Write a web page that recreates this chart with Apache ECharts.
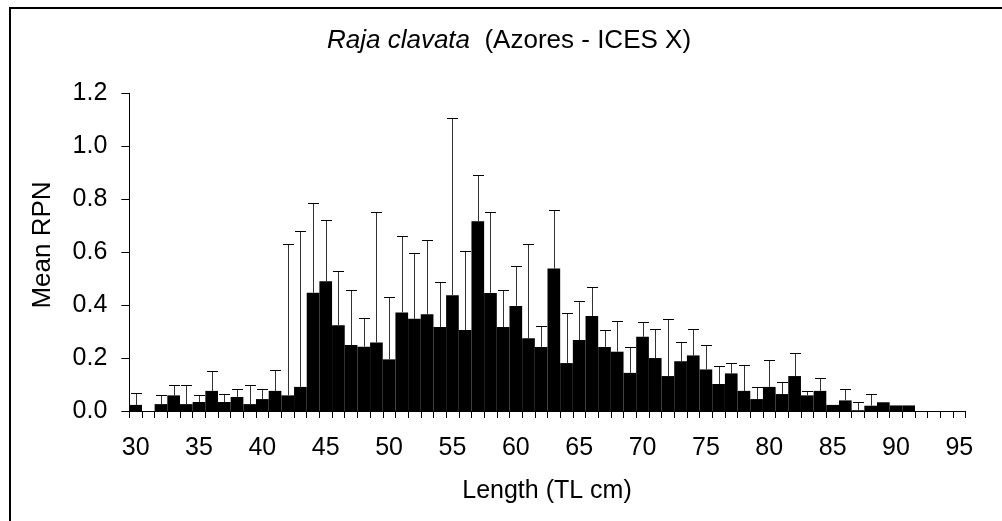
<!DOCTYPE html>
<html>
<head>
<meta charset="utf-8">
<script src="https://cdn.jsdelivr.net/npm/echarts@6/dist/echarts.min.js"></script>
<style>
html,body{margin:0;padding:0;background:#fff;}
#chart{width:1002px;height:521px;}
</style>
</head>
<body>
<div id="chart"></div>
<script>
// Length classes (TL cm)
var categories = ['30','31','32','33','34','35','36','37','38','39',
  '40','41','42','43','44','45','46','47','48','49',
  '50','51','52','53','54','55','56','57','58','59',
  '60','61','62','63','64','65','66','67','68','69',
  '70','71','72','73','74','75','76','77','78','79',
  '80','81','82','83','84','85','86','87','88','89',
  '90','91','92','93','94','95'];

// Mean RPN per length class
var meanRPN = [0.023,0,0.026,0.059,0.026,0.034,0.076,0.034,0.053,0.026,
  0.045,0.076,0.059,0.091,0.447,0.490,0.324,0.249,0.243,0.259,
  0.195,0.372,0.348,0.365,0.317,0.437,0.306,0.717,0.446,0.317,
  0.397,0.275,0.242,0.538,0.181,0.268,0.359,0.242,0.224,0.144,
  0.280,0.200,0.132,0.188,0.210,0.157,0.102,0.142,0.076,0.045,
  0.091,0.064,0.132,0.059,0.076,0.023,0.040,0.003,0.020,0.033,
  0.021,0.021,0,0,0,0];

// Upper end of the error bar (mean + SD) per length class
var errTop = [0.069,null,0.060,0.097,0.100,0.059,0.150,0.064,0.082,0.097,
  0.083,0.156,0.630,0.679,0.785,0.722,0.530,0.457,0.353,0.753,
  0.432,0.660,0.598,0.647,0.489,1.108,0.606,0.893,0.752,0.457,
  0.549,0.630,0.322,0.758,0.372,0.414,0.470,0.305,0.341,0.243,
  0.335,0.311,0.348,0.261,0.311,0.248,0.169,0.180,0.174,0.089,
  0.194,0.108,0.218,0.077,0.126,null,0.083,0.033,0.064,null,
  null,null,null,null,null,null];

var yTicks = [0, 0.2, 0.4, 0.6, 0.8, 1.0, 1.2];

var FONT = '"Liberation Sans", Arial, sans-serif';

var errData = [];
for (var i = 0; i < categories.length; i++) {
  if (errTop[i] != null) errData.push([i, meanRPN[i], errTop[i]]);
}

var chart = echarts.init(document.getElementById('chart'), null, {renderer: 'canvas'});
chart.setOption({
  backgroundColor: '#fff',
  animation: false,
  grid: {left: 129.3, right: 36.3, top: 93.3, bottom: 110, containLabel: false},
  xAxis: {
    type: 'category',
    data: categories,
    boundaryGap: true,
    axisLine: {lineStyle: {color: '#000', width: 1}},
    axisTick: {show: true, interval: 0, alignWithLabel: false, length: 7, lineStyle: {color: '#000'}},
    axisLabel: {interval: 4, margin: 25, color: '#000', fontSize: 25, fontFamily: FONT},
    splitLine: {show: false}
  },
  yAxis: {
    type: 'value',
    min: yTicks[0],
    max: yTicks[yTicks.length - 1],
    interval: 0.2,
    axisLine: {show: true, lineStyle: {color: '#000', width: 1}},
    axisTick: {show: true, length: 8, lineStyle: {color: '#000'}},
    axisLabel: {margin: 22, color: '#000', fontSize: 25, fontFamily: FONT,
      formatter: function (v) { return v.toFixed(1); }},
    splitLine: {show: false}
  },
  series: [
    {
      type: 'bar',
      data: meanRPN,
      barCategoryGap: '0%',
      itemStyle: {color: '#000'},
      z: 2
    },
    {
      type: 'custom',
      data: errData,
      z: 3,
      encode: {x: 0, y: [1, 2]},
      renderItem: function (params, api) {
        var idx = api.value(0);
        var lo = api.coord([idx, api.value(1)]);
        var hi = api.coord([idx, api.value(2)]);
        var x = Math.round(lo[0]) + 0.5;
        var half = 5.5;
        return {
          type: 'group',
          children: [
            {type: 'line', shape: {x1: x, y1: lo[1], x2: x, y2: Math.round(hi[1]) + 0.5},
              style: {stroke: '#333', lineWidth: 1}},
            {type: 'line', shape: {x1: x - half, y1: Math.round(hi[1]) + 0.5, x2: x + half, y2: Math.round(hi[1]) + 0.5},
              style: {stroke: '#000', lineWidth: 1}}
          ]
        };
      }
    }
  ],
  graphic: [
    {type: 'rect', shape: {x: 10, y: 8, width: 1200, height: 700},
      style: {fill: 'none', stroke: '#000', lineWidth: 2}, z: 0, silent: true},
    {type: 'text', x: 509, y: 41, z: 10,
      style: {text: '{i|Raja clavata}  (Azores - ICES X)',
        font: '26px ' + FONT, fill: '#000', align: 'center', verticalAlign: 'middle',
        rich: {i: {fontStyle: 'italic', fontSize: 26, fontFamily: FONT}}}},
    {type: 'text', x: 547, y: 491, z: 10,
      style: {text: 'Length (TL cm)', font: '25px ' + FONT, fill: '#000',
        align: 'center', verticalAlign: 'middle'}},
    {type: 'text', x: 42.5, y: 245, rotation: Math.PI / 2, z: 10,
      style: {text: 'Mean RPN', font: '26px ' + FONT, fill: '#000',
        align: 'center', verticalAlign: 'middle'}}
  ]
});
</script>
</body>
</html>
